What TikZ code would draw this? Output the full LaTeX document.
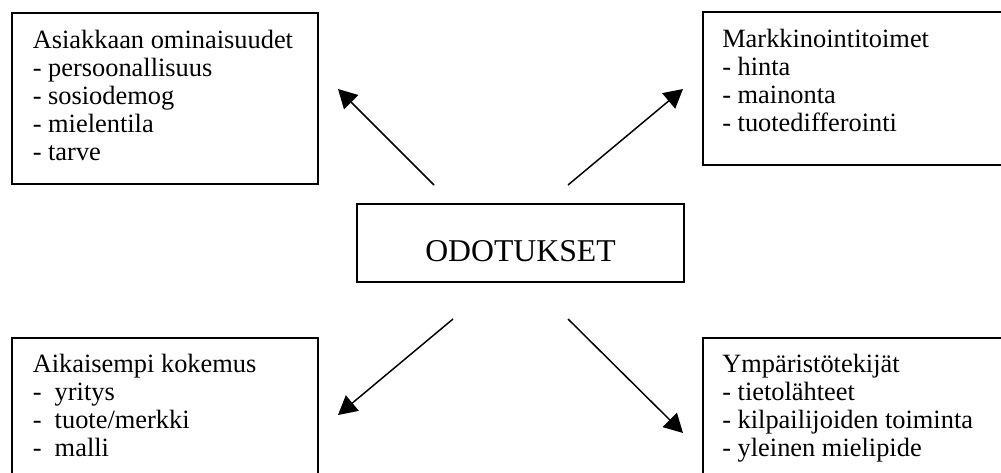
\documentclass[tikz,border=0pt]{standalone}
\usepackage{fontspec}
\setmainfont{Liberation Serif}
\usetikzlibrary{arrows.meta}
\newcommand\boxlines[1]{\vtop{\lineskiplimit=-\maxdimen\baselineskip=21pt #1}}
\begin{document}
\begin{tikzpicture}[x=0.75pt,y=-0.75pt,
  boxst/.style={draw, line width=1.1pt, inner sep=0pt},
  txt/.style={anchor=base west, inner sep=0pt, font=\fontsize{19.8}{21}\selectfont},
  arr/.style={line width=1.1pt, -{Triangle[length=14pt,width=15pt]}}]
\fill[white] (0,0) rectangle (1001,472);
\useasboundingbox (0,0) rectangle (1001,472);
% boxes
\node[boxst, minimum width=229.5pt, minimum height=128pt] (tl) at (165,98.5) {};
\node[boxst, minimum width=229.5pt, minimum height=114.75pt] (tr) at (856,88.5) {};
\node[boxst, minimum width=229.5pt, minimum height=114pt] (bl) at (165,414) {};
\node[boxst, minimum width=229.5pt, minimum height=114pt] (br) at (856,414) {};
\node[boxst, minimum width=245.25pt, minimum height=58.5pt] (c) at (520.5,243) {};
% texts
\node[txt] (tltext) at (32.5,48) {\boxlines{\hbox{Asiakkaan ominaisuudet}\hbox{- persoonallisuus}\hbox{- sosiodemog}\hbox{- mielentila}\hbox{- tarve}}};
\node[txt] (trtext) at (722,47.5) {\boxlines{\hbox{Markkinointitoimet}\hbox{- hinta}\hbox{- mainonta}\hbox{- tuotedifferointi}}};
\node[txt] (bltext) at (32.5,372) {\boxlines{\hbox{Aikaisempi kokemus}\hbox{-\ \ yritys}\hbox{-\ \ tuote/merkki}\hbox{-\ \ malli}}};
\node[txt] (brtext) at (722,372) {\boxlines{\hbox{Ympäristötekijät}\hbox{- tietolähteet}\hbox{- kilpailijoiden toiminta}\hbox{- yleinen mielipide}}};
\node[anchor=base, inner sep=0pt, font=\fontsize{23.8}{28}\selectfont] (ctext) at (520.5,261.7) {ODOTUKSET};
% arrows
\coordinate (a1s) at (434,185); \coordinate (a1e) at (338,89);
\coordinate (a2s) at (568,185); \coordinate (a2e) at (683,89);
\coordinate (a3s) at (453,319); \coordinate (a3e) at (338,415);
\coordinate (a4s) at (568,319); \coordinate (a4e) at (683,433);
\draw[arr] (a1s) -- (a1e);
\draw[arr] (a2s) -- (a2e);
\draw[arr] (a3s) -- (a3e);
\draw[arr] (a4s) -- (a4e);
\end{tikzpicture}
\end{document}
